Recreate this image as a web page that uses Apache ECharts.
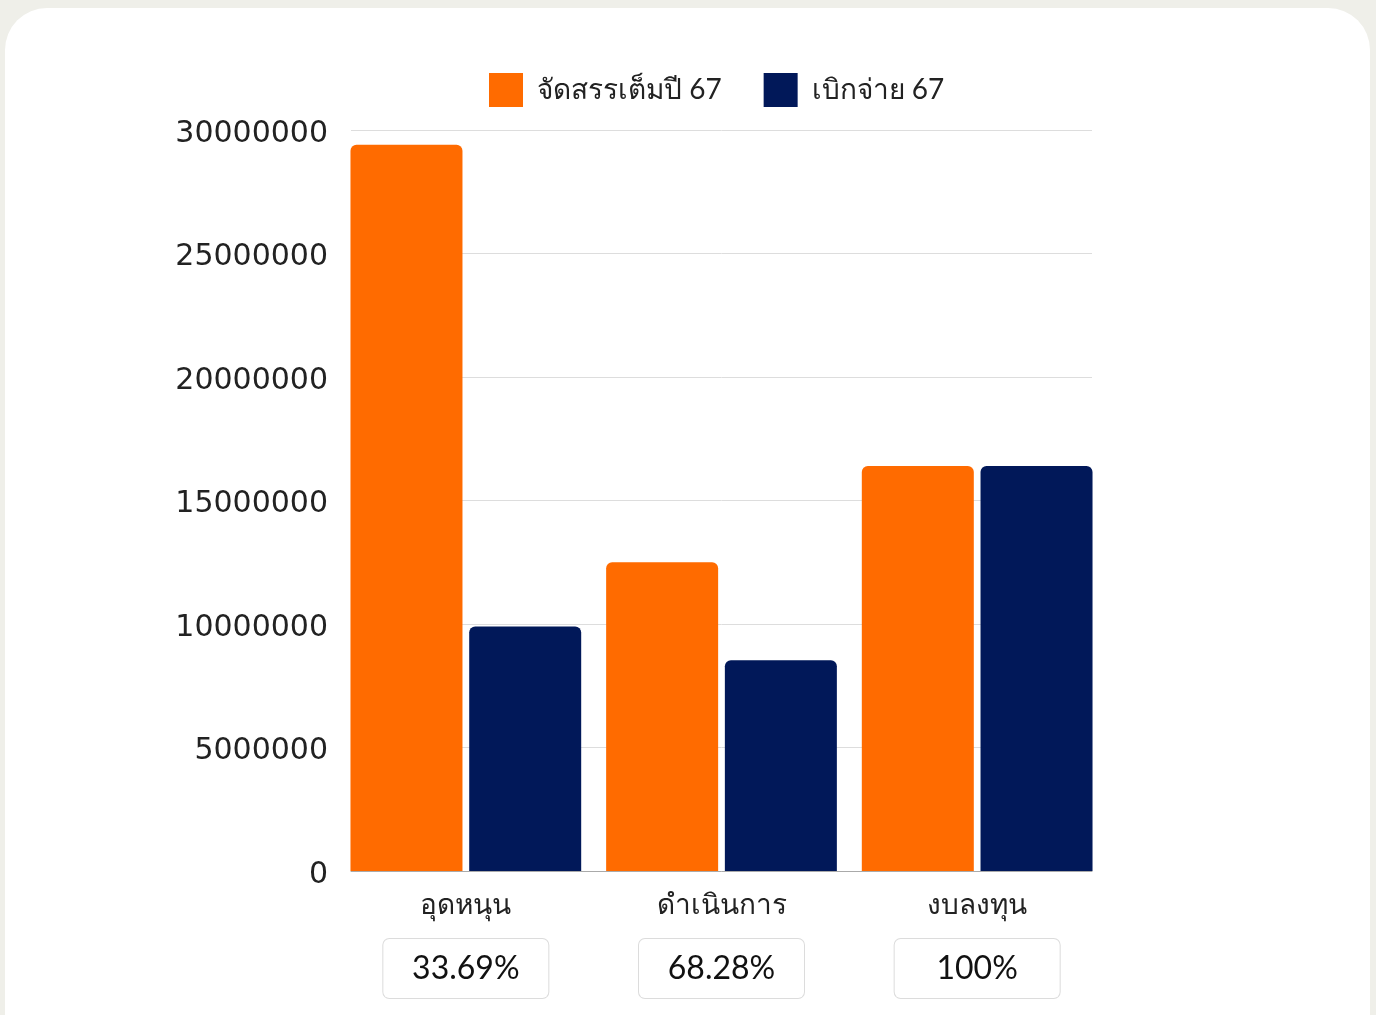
<!DOCTYPE html>
<html>
<head>
<meta charset="utf-8">
<script src="https://cdn.jsdelivr.net/npm/echarts@6/dist/echarts.min.js"></script>
<style>
html,body{margin:0;padding:0;background:#EFEFE9;width:1376px;height:1015px;overflow:hidden;}
#card{position:absolute;left:5px;top:8px;width:1365px;height:1060px;background:#fff;border-radius:42px;}
#chart{position:absolute;left:0;top:0;width:1376px;height:1015px;}
</style>
</head>
<body>
<div id="card"></div>
<div id="chart"></div>
<script>
const categories = ['อุดหนุน', 'ดำเนินการ', 'งบลงทุน'];
const allocated = [29400000, 12500000, 16400000];
const disbursed = [9900000, 8535000, 16400000];
const percentLabels = ['33.69%', '68.28%', '100%'];
const seriesNames = ['จัดสรรเต็มปี 67', 'เบิกจ่าย 67'];
const yTicks = { min: 0, max: 30000000, interval: 5000000 };

const FONT = "Lato, 'Noto Sans', sans-serif";
const chart = echarts.init(document.getElementById('chart'), null, { renderer: 'canvas' });
chart.setOption({
  backgroundColor: 'transparent',
  animation: false,
  textStyle: { fontFamily: FONT },
  legend: {
    data: seriesNames,
    top: 68,
    left: 484,
    itemWidth: 34,
    itemHeight: 34,
    itemGap: 42,
    icon: 'rect',
    textStyle: { fontSize: 28, color: '#222', fontFamily: FONT, padding: [4, 0, 0, 9] }
  },
  grid: [
    { left: 351, right: 284, top: 130, bottom: 144 },
    { left: 338, right: 271, top: 130, bottom: 144 }
  ],
  xAxis: [
    {
      gridIndex: 0, type: 'category', data: categories,
      axisLine: { show: true, lineStyle: { color: '#aaa', width: 1 } },
      axisTick: { show: false }, axisLabel: { show: false }, splitLine: { show: false }
    },
    {
      gridIndex: 1, type: 'category', data: categories,
      axisLine: { show: false }, axisTick: { show: false },
      axisLabel: {
        margin: 0,
        formatter: function (v, i) { return '{c|' + v + '}\n{p|' + percentLabels[i] + '}'; },
        rich: {
          c: { fontSize: 28, lineHeight: 68, color: '#222', fontFamily: FONT, align: 'center' },
          p: {
            fontSize: 32, color: '#111', fontFamily: FONT, align: 'center',
            width: 165, height: 59, lineHeight: 59,
            backgroundColor: '#fff', borderColor: '#dcdcdc', borderWidth: 1, borderRadius: 6
          }
        }
      }
    }
  ],
  yAxis: [
    {
      gridIndex: 0, type: 'value', min: yTicks.min, max: yTicks.max, interval: yTicks.interval,
      axisLine: { show: false }, axisTick: { show: false },
      axisLabel: {
        margin: 23,
        formatter: function (v) { return '{v|' + String(v) + '}'; },
        rich: {
          v: { fontSize: 30, color: '#222', fontFamily: "'DejaVu Sans', sans-serif", padding: [8, 0, 0, 0] }
        }
      },
      splitLine: { show: true, lineStyle: { color: '#ddd', width: 1 } }
    },
    {
      gridIndex: 1, type: 'value', min: yTicks.min, max: yTicks.max, interval: yTicks.interval,
      show: false, splitLine: { show: false }
    }
  ],
  series: [
    {
      name: seriesNames[0], type: 'bar', xAxisIndex: 1, yAxisIndex: 1,
      data: allocated, barWidth: 112, barGap: '6%',
      itemStyle: { color: '#FF6B00', borderRadius: [6, 6, 0, 0] }
    },
    {
      name: seriesNames[1], type: 'bar', xAxisIndex: 1, yAxisIndex: 1,
      data: disbursed, barWidth: 112, barGap: '6%',
      itemStyle: { color: '#011859', borderRadius: [6, 6, 0, 0] }
    }
  ]
});
</script>
</body>
</html>
